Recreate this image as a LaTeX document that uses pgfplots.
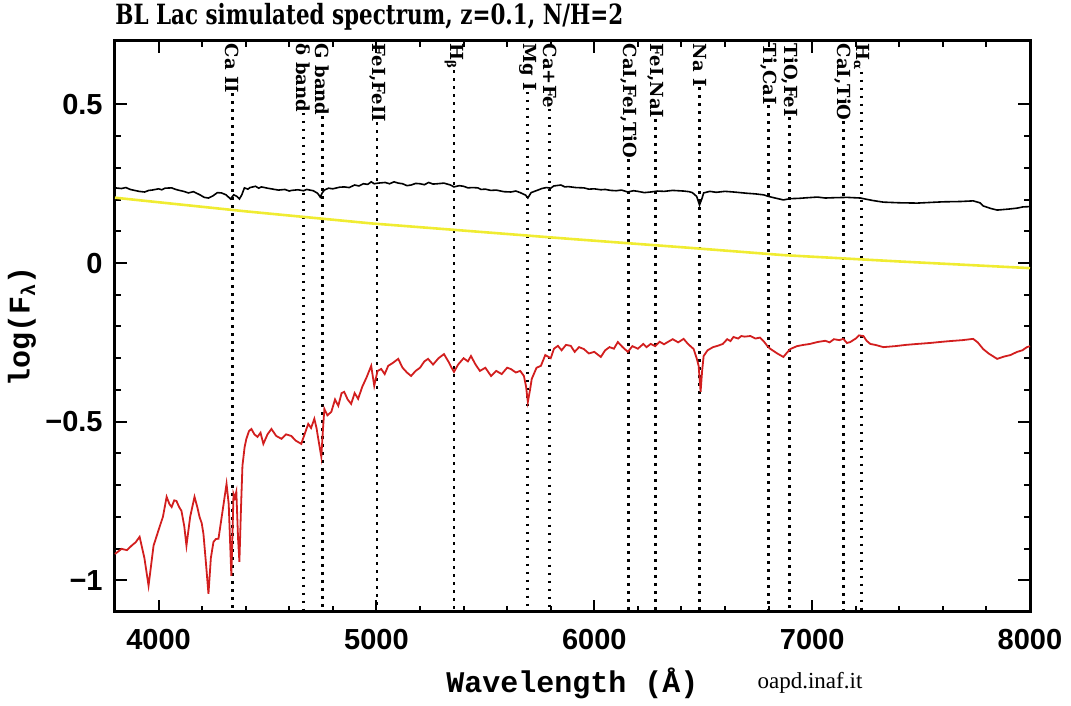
\documentclass[border=0pt]{standalone}
\usepackage{pgfplots}
\pgfplotsset{compat=1.18}
\usepackage{graphicx}
\usepackage{fontspec}
\newfontfamily\sansb{Liberation Sans}
\newfontfamily\slab{DejaVu Serif}
\newfontfamily\mono{Liberation Mono}
\newfontfamily\tnr{Liberation Serif}
\definecolor{specred}{RGB}{210,30,30}
\definecolor{specyel}{RGB}{240,236,50}
\tikzset{
  lbl/.style={font=\slab\bfseries\fontsize{9}{9}\selectfont, rotate=-90, anchor=west, inner sep=0pt},
  dotline/.style={black, line width=1.4pt, dash pattern=on 1.4pt off 2.6pt},
}

\pgfplotstableread{
x y
3800 0.237
3830 0.235
3850 0.238
3870 0.232
3890 0.229
3910 0.226
3936 0.224
3955 0.229
3970 0.230
4000 0.234
4015 0.231
4030 0.236
4060 0.237
4075 0.233
4090 0.230
4115 0.226
4137 0.221
4160 0.225
4175 0.220
4190 0.215
4210 0.207
4229 0.205
4250 0.212
4270 0.222
4289 0.221
4310 0.215
4330 0.202
4345 0.215
4360 0.210
4371 0.202
4382 0.215
4394 0.237
4410 0.233
4420 0.238
4445 0.242
4460 0.236
4472 0.240
4500 0.236
4525 0.233
4550 0.230
4580 0.232
4600 0.227
4610 0.229
4640 0.231
4665 0.228
4680 0.232
4710 0.228
4730 0.220
4742 0.208
4752 0.222
4761 0.230
4780 0.236
4800 0.234
4830 0.239
4852 0.240
4875 0.238
4900 0.246
4920 0.243
4940 0.250
4960 0.248
4976 0.256
4990 0.250
5008 0.252
5040 0.254
5060 0.250
5081 0.256
5100 0.252
5120 0.250
5140 0.244
5159 0.246
5180 0.251
5200 0.250
5220 0.247
5240 0.254
5260 0.249
5280 0.250
5310 0.252
5340 0.246
5356 0.240
5380 0.244
5400 0.242
5420 0.237
5440 0.238
5466 0.237
5480 0.232
5500 0.233
5525 0.229
5550 0.230
5585 0.225
5617 0.224
5640 0.227
5660 0.222
5685 0.214
5695 0.205
5710 0.222
5741 0.230
5760 0.235
5780 0.238
5800 0.236
5814 0.243
5847 0.246
5865 0.240
5880 0.241
5915 0.238
5952 0.237
5975 0.233
6000 0.234
6030 0.231
6050 0.232
6075 0.229
6100 0.228
6125 0.230
6154 0.224
6180 0.228
6200 0.226
6230 0.222
6259 0.224
6290 0.227
6320 0.226
6360 0.229
6410 0.227
6435 0.225
6450 0.222
6470 0.210
6483 0.183
6495 0.205
6502 0.221
6530 0.226
6560 0.223
6600 0.226
6639 0.224
6670 0.222
6700 0.220
6740 0.218
6777 0.215
6800 0.210
6830 0.205
6868 0.199
6900 0.203
6940 0.204
6980 0.206
7024 0.208
7060 0.205
7100 0.206
7160 0.207
7221 0.205
7250 0.201
7280 0.197
7327 0.192
7400 0.190
7482 0.189
7540 0.191
7600 0.193
7680 0.194
7739 0.196
7770 0.190
7785 0.180
7820 0.172
7849 0.167
7900 0.170
7940 0.173
7968 0.177
8000 0.178
}\blackspec

\pgfplotstableread{
x y
3800 0.206
4400 0.163
4976 0.125
5500 0.097
5892 0.076
6400 0.050
6868 0.025
7400 0.005
8000 -0.016
}\powerlaw

\pgfplotstableread{
x y
3800 -0.917
3830 -0.901
3855 -0.905
3876 -0.891
3895 -0.880
3913 -0.863
3935 -0.930
3954 -1.017
3977 -0.891
4005 -0.831
4020 -0.800
4037 -0.737
4050 -0.760
4060 -0.769
4072 -0.748
4082 -0.750
4095 -0.770
4105 -0.781
4118 -0.830
4128 -0.891
4145 -0.800
4165 -0.737
4178 -0.770
4188 -0.800
4198 -0.820
4206 -0.854
4218 -0.950
4229 -1.043
4240 -0.930
4252 -0.879
4263 -0.870
4275 -0.869
4292 -0.790
4312 -0.696
4322 -0.760
4334 -0.986
4339 -0.860
4344 -0.728
4350 -0.740
4357 -0.721
4365 -0.870
4371 -0.942
4378 -0.780
4385 -0.639
4395 -0.580
4403 -0.554
4415 -0.530
4426 -0.523
4440 -0.540
4454 -0.548
4468 -0.535
4481 -0.570
4500 -0.540
4518 -0.523
4540 -0.545
4564 -0.554
4585 -0.540
4609 -0.545
4630 -0.560
4655 -0.570
4670 -0.540
4687 -0.507
4700 -0.520
4715 -0.491
4725 -0.520
4733 -0.554
4747 -0.611
4755 -0.520
4761 -0.460
4775 -0.480
4793 -0.469
4810 -0.430
4825 -0.450
4840 -0.410
4852 -0.406
4868 -0.430
4884 -0.444
4900 -0.410
4916 -0.428
4935 -0.390
4955 -0.360
4976 -0.324
4990 -0.387
5005 -0.340
5022 -0.334
5038 -0.350
5054 -0.324
5075 -0.315
5100 -0.302
5120 -0.330
5140 -0.345
5159 -0.356
5180 -0.340
5200 -0.330
5220 -0.310
5237 -0.302
5260 -0.320
5285 -0.300
5310 -0.287
5330 -0.310
5345 -0.330
5356 -0.343
5375 -0.320
5400 -0.300
5420 -0.310
5434 -0.293
5455 -0.320
5475 -0.340
5500 -0.330
5526 -0.356
5550 -0.340
5575 -0.350
5600 -0.330
5617 -0.334
5640 -0.345
5660 -0.340
5677 -0.356
5687 -0.390
5695 -0.438
5705 -0.400
5713 -0.365
5735 -0.330
5755 -0.324
5775 -0.290
5800 -0.300
5815 -0.270
5833 -0.261
5850 -0.275
5870 -0.258
5892 -0.261
5910 -0.280
5930 -0.265
5952 -0.271
5975 -0.285
6000 -0.280
6030 -0.296
6050 -0.275
6070 -0.265
6090 -0.270
6108 -0.249
6130 -0.265
6154 -0.280
6175 -0.262
6200 -0.270
6225 -0.255
6240 -0.265
6259 -0.255
6280 -0.262
6300 -0.248
6320 -0.256
6337 -0.249
6360 -0.240
6385 -0.250
6410 -0.239
6430 -0.255
6456 -0.271
6470 -0.300
6479 -0.324
6488 -0.406
6495 -0.340
6502 -0.293
6520 -0.275
6545 -0.265
6566 -0.261
6590 -0.255
6610 -0.240
6625 -0.246
6639 -0.233
6660 -0.238
6675 -0.230
6690 -0.232
6717 -0.230
6740 -0.238
6760 -0.235
6777 -0.246
6795 -0.262
6809 -0.271
6840 -0.285
6868 -0.296
6885 -0.282
6900 -0.271
6930 -0.262
6960 -0.258
6990 -0.255
7024 -0.249
7060 -0.245
7080 -0.250
7100 -0.240
7125 -0.243
7143 -0.239
7160 -0.252
7175 -0.249
7200 -0.238
7215 -0.228
7235 -0.230
7250 -0.245
7267 -0.255
7290 -0.258
7327 -0.265
7380 -0.262
7430 -0.258
7482 -0.255
7540 -0.252
7600 -0.248
7633 -0.246
7690 -0.243
7739 -0.239
7760 -0.250
7785 -0.271
7810 -0.285
7849 -0.302
7880 -0.295
7910 -0.290
7941 -0.280
7965 -0.275
7986 -0.265
8000 -0.262
}\redspec

\newcommand{\specline}[2]{%
  \node[lbl] (n#1) at (axis cs:#1,0.692) {#2};
  \draw[dotline] (n#1.east) -- (axis cs:#1,-1.1);
}

\begin{document}
\begin{tikzpicture}
\begin{axis}[
  at={(0,0)}, anchor=south west,
  scale only axis,
  width=457.5pt, height=285.5pt,
  xmin=3800, xmax=8000, ymin=-1.1, ymax=0.7,
  axis line style={line width=1.5pt},
  tick style={line width=1pt, black},
  major tick length=6pt, minor tick length=3pt,
  tick align=inside,
  xtick={4000,5000,6000,7000,8000},
  xticklabels={4000,5000,6000,7000,8000},
  ytick={-1,-0.5,0,0.5},
  yticklabels={−1,−0.5,0,0.5},
  minor x tick num=4, minor y tick num=4,
  ticklabel style={font=\sansb\bfseries\fontsize{14.5}{16}\selectfont},
  xticklabel style={anchor=center, yshift=-14pt},
  yticklabel style={anchor=east, inner sep=0pt, xshift=-6pt},
  xlabel={Wavelength (Å)},
  ylabel={log(F\raisebox{-0.35ex}{\fontsize{10}{10}\selectfont λ})},
  label style={font=\mono\bfseries\fontsize{15}{16}\selectfont},
  xlabel style={at={([yshift=-35.5pt]axis description cs:0.5,0)}, anchor=center},
  ylabel style={at={([xshift=-46.5pt]axis description cs:0,0.5)}, anchor=center},
  clip=false,
]
\specline{4339}{Ca II}
\specline{4664}{δ band}
\specline{4751}{G band}
\specline{5003}{FeI,FeII}
\specline{5356}{H\textsubscript{β}}
\specline{5695}{Mg I}
\specline{5796}{Ca+Fe}
\specline{6158}{CaI,FeI,TiO}
\specline{6282}{FeI,NaI}
\specline{6483}{Na I}
\specline{6800}{Ti,CaI}
\specline{6896}{TiO,FeI}
\specline{7143}{CaI,TiO}
\specline{7226}{H\textsubscript{α}}

\addplot[black, line width=0.8pt] table {\blackspec};
\addplot[specyel, line width=1.3pt] table {\powerlaw};
\addplot[specred, line width=0.9pt] table {\redspec};

\node[anchor=base west, inner sep=0pt] at (rel axis cs:0,1) [yshift=8pt]
  {\resizebox{254pt}{!}{\scalebox{1}[1.3]{\slab\bfseries BL Lac simulated spectrum, z=0.1, N/H=2}}};
\node[font=\tnr\fontsize{11.5}{12}\selectfont, anchor=center] at (rel axis cs:0,0) [xshift=347.5pt, yshift=-35.5pt] {oapd.inaf.it};
\end{axis}
\useasboundingbox (-57.5pt,-43.5pt) rectangle (478pt,306pt);
\end{tikzpicture}
\end{document}
